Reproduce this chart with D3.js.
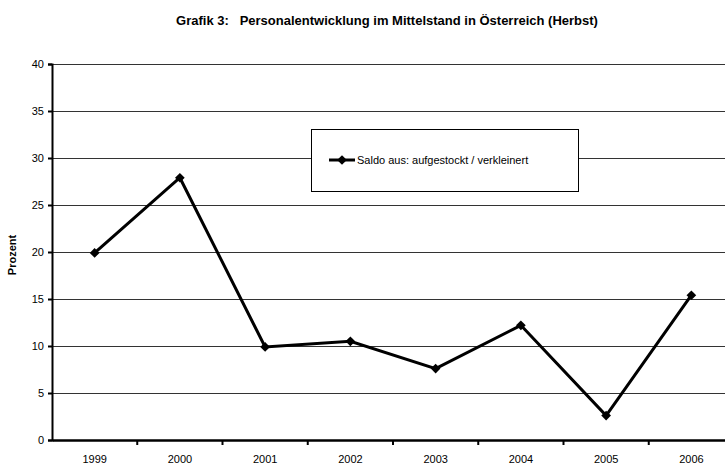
<!DOCTYPE html>
<html>
<head>
<meta charset="utf-8" />
<style>
  body { margin: 0; background: #fff; }
  text { font-family: "Liberation Sans", Arial, sans-serif; fill: #000; }
  #title { font-size: 13px; font-weight: bold; text-anchor: middle; }
  .tick text { font-size: 11px; }
  .grid line { stroke: #333; stroke-width: 1; shape-rendering: crispEdges; }
</style>
<script src="https://cdnjs.cloudflare.com/ajax/libs/d3/7.8.5/d3.min.js"></script>
</head>
<body>
<svg id="chart" width="725" height="466"></svg>
<script>
  var years = ['1999', '2000', '2001', '2002', '2003', '2004', '2005', '2006'];
  var saldo = [19.9, 27.9, 9.9, 10.5, 7.6, 12.2, 2.6, 15.4];
  var yTicks = [0, 5, 10, 15, 20, 25, 30, 35, 40];
  var seriesName = 'Saldo aus: aufgestockt / verkleinert';

  (function () {
    var svg = d3.select('#chart');
    var pLeft = 52, pRight = 734, pTop = 64, pBottom = 440;

    var x = d3.scaleBand().domain(years).range([pLeft, pRight]);
    var y = d3.scaleLinear().domain([0, 40]).range([pBottom, pTop]);

    svg.append('text')
      .attr('id', 'title')
      .attr('x', 387).attr('y', 25)
      .text('Grafik 3:\u00a0\u00a0\u00a0Personalentwicklung im Mittelstand in Österreich (Herbst)');

    // gridlines
    svg.append('g').attr('class', 'grid')
      .selectAll('line')
      .data(yTicks.filter(d => d > 0))
      .enter().append('line')
        .attr('x1', pLeft).attr('x2', 725)
        .attr('y1', d => Math.round(y(d)) + 0.5)
        .attr('y2', d => Math.round(y(d)) + 0.5);

    // y axis
    var yAxis = svg.append('g')
      .attr('transform', `translate(${pLeft},0)`)
      .call(d3.axisLeft(y).tickValues(yTicks).tickSize(4).tickPadding(4));
    yAxis.selectAll('line, path').attr('stroke', '#000').attr('stroke-width', 2);

    // x axis, ticks sit between categories
    var xAxis = svg.append('g')
      .attr('transform', `translate(0,${pBottom})`)
      .call(d3.axisBottom(x).tickSize(0).tickPadding(15));
    xAxis.select('.domain').attr('stroke', '#000').attr('stroke-width', 2.5);
    xAxis.selectAll('.sep')
      .data(years.slice(1))
      .enter().append('line')
        .attr('x1', d => x(d)).attr('x2', d => x(d))
        .attr('y1', 0).attr('y2', 5)
        .attr('stroke', '#000').attr('stroke-width', 2);

    svg.append('text')
      .attr('transform', 'translate(16,255) rotate(-90)')
      .attr('text-anchor', 'middle')
      .attr('font-size', 11).attr('font-weight', 'bold')
      .text('Prozent');

    var cx = d => x(d) + x.bandwidth() / 2;
    var diamond = d3.symbol().type(d3.symbolDiamond2).size(60);

    svg.append('path')
      .datum(years)
      .attr('fill', 'none')
      .attr('stroke', '#000')
      .attr('stroke-width', 3)
      .attr('d', d3.line().x(d => cx(d)).y((d, i) => y(saldo[i])));

    svg.selectAll('.pt')
      .data(years)
      .enter().append('path')
        .attr('d', diamond)
        .attr('transform', (d, i) => `translate(${cx(d)},${y(saldo[i])})`)
        .attr('fill', '#000');

    // legend
    var lg = svg.append('g').attr('transform', 'translate(311,129)');
    lg.append('rect')
      .attr('x', 0.5).attr('y', 0.5).attr('width', 267).attr('height', 62)
      .attr('fill', '#fff').attr('stroke', '#000').attr('stroke-width', 1);
    lg.append('line')
      .attr('x1', 18).attr('x2', 44).attr('y1', 31).attr('y2', 31)
      .attr('stroke', '#000').attr('stroke-width', 3);
    lg.append('path')
      .attr('d', diamond)
      .attr('transform', 'translate(31,31)');
    lg.append('text')
      .attr('x', 46).attr('y', 35)
      .attr('font-size', 11)
      .text(seriesName);
  })();
</script>
</body>
</html>
